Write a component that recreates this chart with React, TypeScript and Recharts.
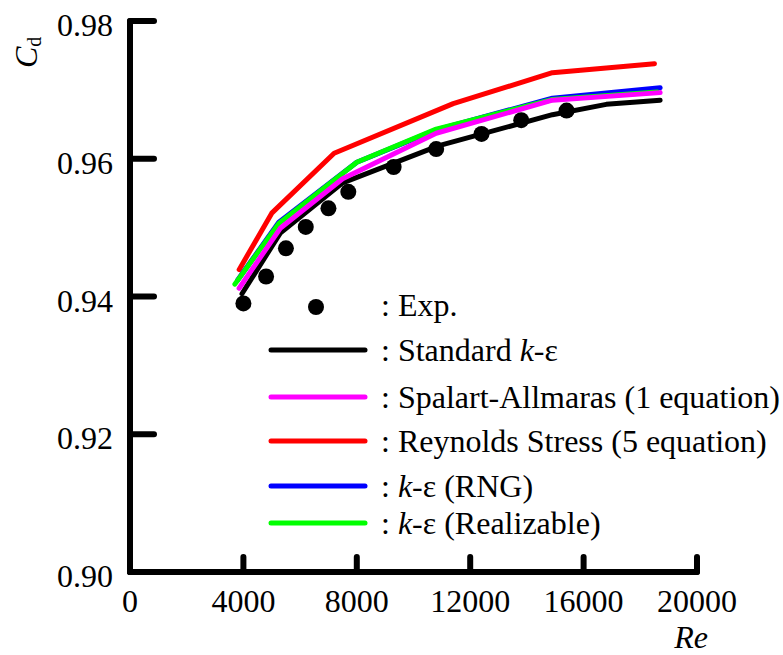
import { ComposedChart, Line, Scatter, XAxis, YAxis, Legend } from 'recharts'

const FONT = "'Liberation Serif', Tinos, 'Times New Roman', 'DejaVu Serif', serif"

// experiment
const expRe = [4000, 4800, 5500, 6200, 7000, 7700, 9300, 10800, 12400, 13800, 15400]
const expCd = [0.9390, 0.9429, 0.9470, 0.9501, 0.9528, 0.9552, 0.9588, 0.9614, 0.9636, 0.9656, 0.9670]

// Standard k-e
const stdRe = [3950, 5300, 7500, 10900, 14900, 16800, 18700]
const stdCd = [0.9404, 0.9492, 0.9565, 0.9619, 0.9664, 0.9679, 0.9685]

// Spalart-Allmaras
const saRe = [3850, 5300, 7500, 10800, 14900, 18700]
const saCd = [0.9412, 0.9499, 0.9571, 0.9637, 0.9685, 0.9696]

// Reynolds stress
const rsRe = [3850, 5000, 7200, 11400, 14900, 18500]
const rsCd = [0.9439, 0.9521, 0.9608, 0.9680, 0.9725, 0.9738]

// k-e RNG
const rngRe = [3800, 5250, 8000, 10800, 14900, 18700]
const rngCd = [0.9424, 0.9508, 0.9595, 0.9642, 0.9688, 0.9703]

// k-e realizable
const realRe = [3700, 5250, 8000, 10800, 14900, 18600]
const realCd = [0.9418, 0.9506, 0.9595, 0.9643, 0.9686, 0.9697]

const xTicks = [0, 4000, 8000, 12000, 16000, 20000]
const yTicks = [0.90, 0.92, 0.94, 0.96, 0.98]

const toPts = (re: number[], cd: number[]) => re.map((r, i) => ({ re: r, cd: cd[i] }))

const txt = { fontFamily: FONT, fontSize: 32 }

const KE = () => (
  <>
    <tspan fontStyle="italic">k</tspan>-ε
  </>
)

const legendRows = [
  { color: '#000000', y: 350, label: <>: Standard <KE /></> },
  { color: '#ff00ff', y: 397, label: <>: Spalart-Allmaras (1 equation)</> },
  { color: '#ff0000', y: 441, label: <>: Reynolds Stress (5 equation)</> },
  { color: '#0000ff', y: 486, label: <>: <KE /> (RNG)</> },
  { color: '#00ff00', y: 523, label: <>: <KE /> (Realizable)</> },
]

function LegendBox() {
  return (
    <svg width={783} height={655} style={{ position: 'absolute', left: 0, top: 0 }}>
      <g style={txt} fill="#000">
        <circle cx={316} cy={307} r={8} fill="#000" />
        <text x={381} y={316} style={txt}>: Exp.</text>
        {legendRows.map(r => (
          <g key={r.color}>
            <line x1={271} x2={365} y1={r.y} y2={r.y} stroke={r.color} strokeWidth={5} strokeLinecap="round" />
            <text x={381} y={r.y + 11} style={txt}>{r.label}</text>
          </g>
        ))}
      </g>
    </svg>
  )
}

// eslint-disable-next-line @typescript-eslint/no-explicit-any
const YTick = (p: any) => (
  <g>
    <line x1={p.x} x2={p.x + 24} y1={p.y} y2={p.y} stroke="#000" strokeWidth={6} strokeLinecap="round" />
    <text x={p.x - 17} y={p.y + 15} textAnchor="end" style={txt} fill="#000">
      {p.payload.value.toFixed(2)}
    </text>
  </g>
)

// eslint-disable-next-line @typescript-eslint/no-explicit-any
const XTick = (p: any) => (
  <g>
    <line x1={p.x} x2={p.x} y1={p.y} y2={p.y - 15} stroke="#000" strokeWidth={6} strokeLinecap="round" />
    <text x={p.x} y={p.y + 40} textAnchor="middle" style={txt} fill="#000">
      {p.payload.value}
    </text>
  </g>
)

export default function App() {
  return (
    <div style={{ position: 'absolute', left: 0, top: 0, width: 783, height: 655, background: '#fff' }}>
      <ComposedChart width={783} height={655} margin={{ top: 21, right: 86, left: 0, bottom: 0 }}>
        <XAxis
          type="number"
          dataKey="re"
          domain={[0, 20000]}
          ticks={xTicks}
          interval={0}
          height={83}
          tickSize={0}
          tickMargin={0}
          tickLine={false}
          tick={XTick}
          axisLine={{ stroke: '#000', strokeWidth: 6, strokeLinecap: 'round' }}
          label={{
            content: () => (
              <text x={691} y={648} textAnchor="middle" style={{ ...txt, fontStyle: 'italic' }} fill="#000">
                Re
              </text>
            ),
          }}
        />
        <YAxis
          type="number"
          domain={[0.9, 0.98]}
          ticks={yTicks}
          interval={0}
          width={130}
          tickSize={0}
          tickMargin={0}
          tickLine={false}
          tick={YTick}
          axisLine={{ stroke: '#000', strokeWidth: 6, strokeLinecap: 'round' }}
          label={{
            content: () => (
              <text transform="translate(37, 68) rotate(-90)" style={txt} fill="#000">
                <tspan fontStyle="italic">C</tspan>
                <tspan fontSize={20} dy={4}>d</tspan>
              </text>
            ),
          }}
        />
        <Line data={toPts(stdRe, stdCd)} dataKey="cd" type="linear" stroke="#000000" strokeWidth={5} dot={false} strokeLinecap="round" strokeLinejoin="round" isAnimationActive={false} />
        <Line data={toPts(rsRe, rsCd)} dataKey="cd" type="linear" stroke="#ff0000" strokeWidth={5} dot={false} strokeLinecap="round" strokeLinejoin="round" isAnimationActive={false} />
        <Line data={toPts(rngRe, rngCd)} dataKey="cd" type="linear" stroke="#0000ff" strokeWidth={5} dot={false} strokeLinecap="round" strokeLinejoin="round" isAnimationActive={false} />
        <Line data={toPts(realRe, realCd)} dataKey="cd" type="linear" stroke="#00ff00" strokeWidth={5} dot={false} strokeLinecap="round" strokeLinejoin="round" isAnimationActive={false} />
        <Line data={toPts(saRe, saCd)} dataKey="cd" type="linear" stroke="#ff00ff" strokeWidth={5} dot={false} strokeLinecap="round" strokeLinejoin="round" isAnimationActive={false} />
        <Scatter
          data={toPts(expRe, expCd)}
          dataKey="cd"
          fill="#000"
          isAnimationActive={false}
          // eslint-disable-next-line @typescript-eslint/no-explicit-any
          shape={(p: any) => <circle cx={p.cx} cy={p.cy} r={8} fill="#000" />}
        />
        <Legend
          verticalAlign="middle"
          align="center"
          content={() => <LegendBox />}
          wrapperStyle={{ position: 'absolute', left: 0, top: 0, width: 783, height: 655, pointerEvents: 'none' }}
        />
      </ComposedChart>
    </div>
  )
}
